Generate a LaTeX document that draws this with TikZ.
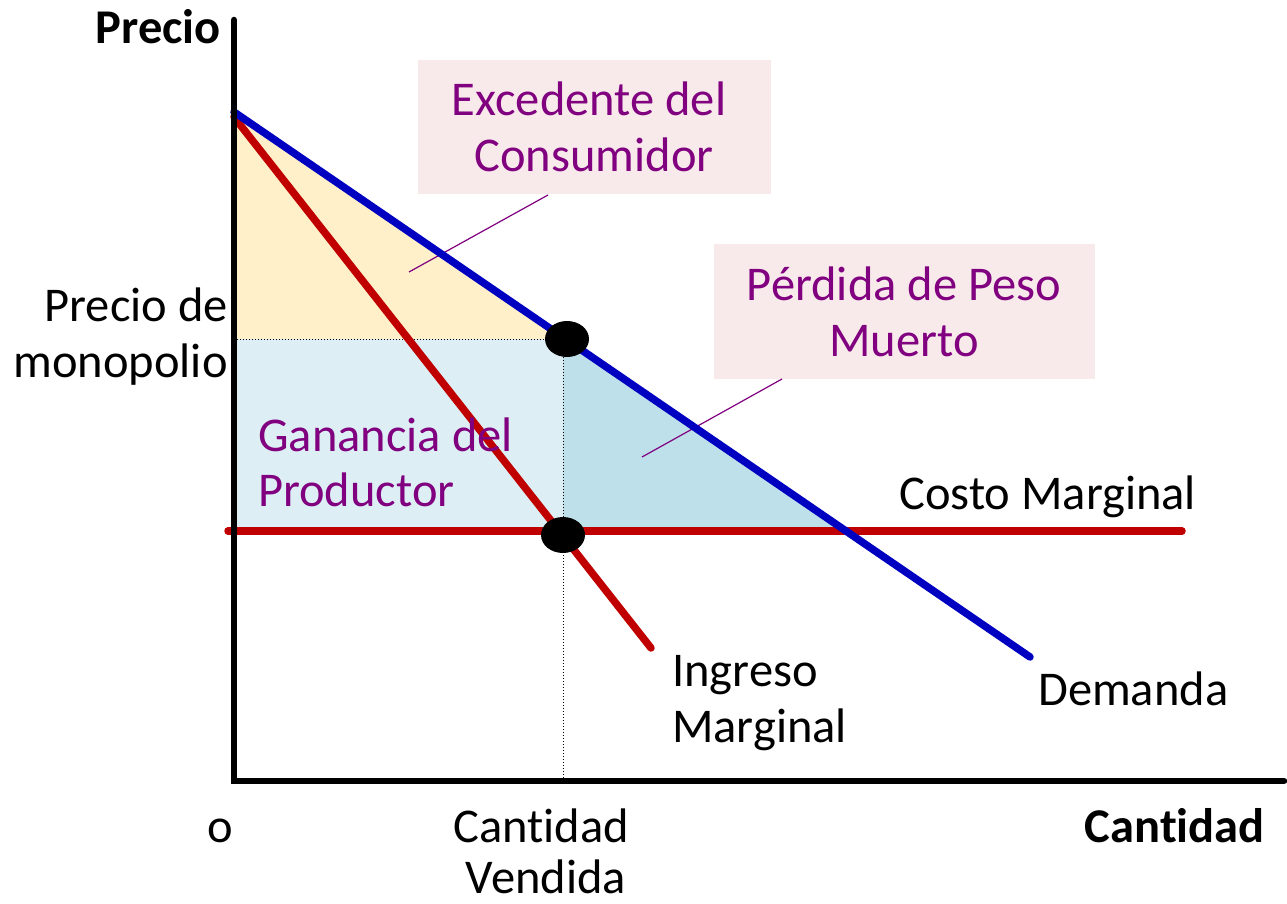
\documentclass[tikz,border=0pt]{standalone}
\usepackage{fontspec}
\setmainfont{Carlito}[Ligatures=NoCommon]
\usetikzlibrary{shapes.geometric}
\definecolor{dblue}{RGB}{0,0,192}
\definecolor{dred}{RGB}{192,0,0}
\definecolor{purp}{RGB}{128,0,128}
\definecolor{boxpink}{RGB}{248,234,234}
\definecolor{csyellow}{RGB}{255,240,201}
\definecolor{psblue}{RGB}{221,239,244}
\definecolor{dwblue}{RGB}{190,224,234}
\tikzset{
  lbl/.style={inner sep=0pt, font=\fontsize{48.5}{56}\selectfont, text=black},
  plbl/.style={lbl, text=purp},
  blbl/.style={lbl, font=\fontsize{48.5}{56}\selectfont\bfseries},
  curve/.style={line width=7.5pt, line cap=round},
  axis/.style={line width=6.5pt, line cap=round, black},
  guide/.style={black, line width=1pt, dotted},
  callout/.style={purp, line width=1.2pt},
  bigdot/.style={ellipse, fill=black, minimum width=44pt, minimum height=36pt, inner sep=0pt},
  labelbox/.style={fill=boxpink, draw=none, inner sep=0pt}
}
\begin{document}
\begin{tikzpicture}[x=1pt,y=-1pt]
\useasboundingbox (0,0) rectangle (1287,904);
% key points
\coordinate (A) at (234,112);
\coordinate (Mr) at (234,117);
\coordinate (Dend) at (1030,657);
\coordinate (Rend) at (651,648);
\coordinate (E) at (563,339);
\coordinate (Q) at (563,531);
\coordinate (F) at (846,531);
\coordinate (P) at (234,339);
\coordinate (C) at (234,531);
\coordinate (Qx) at (563,781);
\coordinate (MCs) at (228,531);
\coordinate (MCe) at (1182,531);
% fills
\fill[csyellow] (A) -- (E) -- (P) -- cycle;
\fill[psblue] (P) -- (E) -- (Q) -- (C) -- cycle;
\fill[dwblue] (E) -- (F) -- (Q) -- cycle;
% guides
\draw[guide] (P) -- (E);
\draw[guide] (E) -- (Qx);
% label boxes
\node[labelbox, minimum width=353pt, minimum height=134pt] (csbox) at (594.5,127) {};
\node[labelbox, minimum width=381pt, minimum height=135pt] (dwbox) at (904.5,311.5) {};
\coordinate (cst) at (409,272);
\coordinate (dwt) at (642,457);
\draw[callout] (548,195) coordinate (csf) -- (cst);
\draw[callout] (782,379) coordinate (dwf) -- (dwt);
% curves
\draw[curve, dred] (MCs) -- (MCe);
\draw[curve, dred] (Mr) -- (Rend);
\draw[curve, dblue] (A) -- (Dend);
% axes
\coordinate (Ytop) at (234,20);
\coordinate (O) at (234,781);
\coordinate (Xend) at (1284,781);
\draw[axis] (Ytop) -- (O) -- (Xend);
% dots
\node[bigdot] (dotE) at (567,339) {};
\node[bigdot] (dotQ) at (563,535) {};
% texts
\node[blbl, anchor=base east] (precio) at (221,44) {Precio};
\node[blbl, anchor=base east] (cantidad) at (1265,842) {Cantidad};
\node[lbl, anchor=base] (origen) at (220,842) {o};
\node[lbl, anchor=base] (cv1) at (541,842) {Cantidad};
\node[lbl, anchor=base] (cv2) at (546,893) {Vendida};
\node[lbl, anchor=base east] (pm1) at (228,321) {Precio de};
\node[lbl, anchor=base east] (pm2) at (228,377) {monopolio};
\node[lbl, anchor=base west] (cmg) at (899,509) {Costo Marginal};
\node[lbl, anchor=base west] (img1) at (672,686) {Ingreso};
\node[lbl, anchor=base west] (img2) at (672,742) {Marginal};
\node[lbl, anchor=base west] (dem) at (1038,705) {Demanda};
\node[plbl, anchor=base] (cs1) at (589,116) {Excedente del};
\node[plbl, anchor=base] (cs2) at (594,172) {Consumidor};
\node[plbl, anchor=base] (dw1) at (904,300) {Pérdida de Peso};
\node[plbl, anchor=base] (dw2) at (904,356) {Muerto};
\node[plbl, anchor=base west] (gp1) at (258,451) {Ganancia del};
\node[plbl, anchor=base west] (gp2) at (258,506) {Productor};
\end{tikzpicture}
\end{document}
